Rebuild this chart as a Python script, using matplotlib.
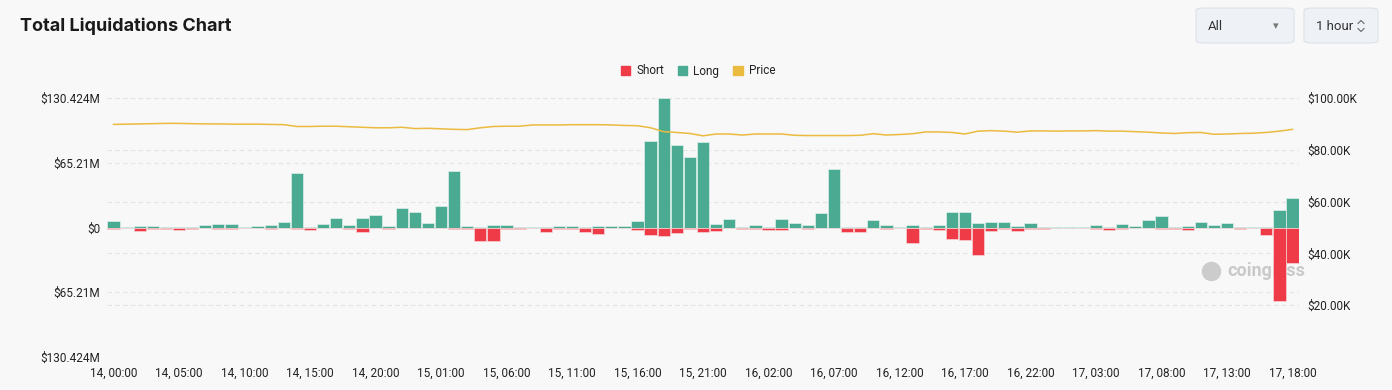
import matplotlib
matplotlib.use('Agg')
import matplotlib.pyplot as plt
import matplotlib.transforms as mtransforms
import numpy as np
from matplotlib.patches import Patch, FancyBboxPatch
from matplotlib.lines import Line2D

# дані: ліквідації по годинах (млн $), 14, 00:00 ... 17, 18:00
long_vals = [6.7, 1.0, 2.0, 1.7, 1.0, 1.0, 1.0, 3.0, 3.3, 4.0,
             0.5, 1.3, 2.3, 5.7, 55.0, 1.0, 3.7, 9.3, 3.0, 9.3,
             12.3, 2.0, 20.0, 15.3, 5.0, 22.0, 57.0, 1.3, 0.3, 3.0,
             3.0, 1.0, 0.5, 0.7, 2.0, 1.3, 1.0, 1.3, 1.7, 1.7,
             7.0, 87.0, 130.424, 83.0, 70.7, 85.7, 3.3, 8.3, 1.0, 3.0,
             0.7, 8.7, 5.0, 2.7, 14.3, 58.7, 0.3, 0.3, 7.3, 2.3,
             0.7, 3.0, 0.7, 2.3, 15.3, 15.7, 5.0, 5.7, 6.0, 2.0,
             5.0, 0.3, 1.0, 1.0, 0.3, 3.0, 1.0, 3.7, 2.0, 8.0,
             12.0, 0.7, 2.0, 6.0, 3.0, 5.0, 0.7, 0.3, 0.3, 18.0,
             29.7]
short_vals = [1.7, 1.0, 3.7, 1.7, 1.7, 2.3, 1.7, 1.0, 1.3, 1.3,
              0.8, 0.7, 1.3, 0.7, 1.7, 3.0, 1.0, 1.0, 1.7, 4.3,
              0.7, 2.0, 0.7, 1.0, 0.7, 0.7, 2.0, 2.0, 13.3, 13.3,
              1.3, 2.0, 0.7, 4.3, 1.3, 1.3, 4.3, 7.0, 0.7, 1.0,
              2.7, 8.0, 8.7, 5.3, 1.7, 5.0, 4.0, 1.0, 1.7, 1.3,
              3.0, 3.0, 0.7, 1.7, 0.7, 0.7, 4.7, 4.7, 0.7, 1.7,
              0.7, 15.7, 2.0, 2.7, 11.3, 12.7, 27.7, 3.7, 1.3, 3.7,
              1.3, 1.7, 0.7, 0.7, 1.0, 1.3, 2.7, 1.7, 1.0, 1.0,
              1.7, 1.7, 2.3, 0.7, 1.0, 1.0, 1.7, 1.0, 7.7, 74.3,
              36.0]
price_vals = [89.8, 89.9, 90.0, 90.1, 90.2, 90.2, 90.1, 90.0, 90.0, 89.9,
              89.9, 89.9, 89.8, 89.7, 89.0, 89.0, 89.1, 89.1, 88.9, 88.7,
              88.5, 88.5, 88.7, 88.2, 88.3, 88.1, 87.9, 87.8, 88.5, 89.0,
              89.1, 89.1, 89.6, 89.6, 89.6, 89.7, 89.7, 89.7, 89.6, 89.4,
              89.3, 88.5, 87.0, 86.7, 86.3, 85.4, 86.1, 86.1, 85.7, 86.1,
              86.1, 86.1, 85.6, 85.5, 85.5, 85.5, 85.5, 85.6, 86.2, 85.7,
              85.9, 86.2, 86.9, 86.9, 86.7, 86.1, 87.2, 87.4, 87.2, 86.8,
              87.3, 87.3, 87.2, 87.3, 87.3, 87.4, 87.2, 87.2, 87.0, 86.8,
              86.5, 86.3, 86.6, 86.7, 86.0, 86.1, 86.3, 86.4, 86.7, 87.2,
              87.9]

x_labels = ['14, 00:00', '14, 05:00', '14, 10:00', '14, 15:00', '14, 20:00',
            '15, 01:00', '15, 06:00', '15, 11:00', '15, 16:00', '15, 21:00',
            '16, 02:00', '16, 07:00', '16, 12:00', '16, 17:00', '16, 22:00',
            '17, 03:00', '17, 08:00', '17, 13:00', '17, 18:00']
left_ticks = [-130.424, -65.21, 0, 65.21, 130.424]
left_labels = ['$130.424M', '$65.21M', '$0', '$65.21M', '$130.424M']
right_ticks = [20, 40, 60, 80, 100]
right_labels = ['$20.00K', '$40.00K', '$60.00K', '$80.00K', '$100.00K']

BG = '#f8f8f8'
GREEN = '#4aaa92'
RED = '#ef3a48'
YELLOW = '#ebbb3f'
TXT = '#222222'
GRID = '#e4e4e4'

plt.rcParams['font.family'] = ['Roboto', 'DejaVu Sans']

fig = plt.figure(figsize=(13.92, 3.9), dpi=100, facecolor=BG)
ax = fig.add_axes([107 / 1392, 33 / 390, 1192 / 1392, 259 / 390])
ax.set_facecolor(BG)

x = np.arange(len(long_vals))
ax.bar(x, long_vals, width=0.94, color=GREEN, edgecolor='#dff0ea', linewidth=0.5, zorder=3)
ax.bar(x, -np.array(short_vals), width=0.94, color=RED, edgecolor='#f6d3d6', linewidth=0.5, zorder=3)

ax.set_xlim(-0.5, len(long_vals) - 0.5)
ax.set_ylim(-130.424, 130.424)
ax.set_yticks(left_ticks)
ax.set_yticklabels(left_labels)
ax.set_xticks(np.arange(0, len(long_vals), 5))
ax.set_xticklabels(x_labels)
ax.tick_params(length=0, labelsize=8.5, colors=TXT)
ax.tick_params(axis='x', pad=7)
ax.tick_params(axis='y', pad=5)
ax.grid(axis='y', color=GRID, linestyle=(0, (4, 3)), linewidth=0.8, zorder=0)
for s in ax.spines.values():
    s.set_visible(False)

# права вісь - ціна
ax2 = ax.twinx()
ax2.plot(x, price_vals, color=YELLOW, lw=1.1, zorder=4)
ax2.set_ylim(0, 100)
ax2.set_yticks(right_ticks)
ax2.set_yticklabels(right_labels)
ax2.tick_params(length=0, labelsize=8.5, colors=TXT, pad=6)
for s in ax2.spines.values():
    s.set_visible(False)

# сітка правої осі - малюємо під стовпчиками
tr = mtransforms.blended_transform_factory(ax.transAxes, ax2.transData)
for v in right_ticks:
    ax.plot([0, 1], [v, v], transform=tr, color=GRID, linestyle=(0, (4, 3)), lw=0.8, zorder=0)

# водяний знак
ax.text(1227 / 1392, 1 - 271 / 390, 'coinglass', transform=fig.transFigure, fontsize=13,
        color='#c9c9c9', fontweight='bold', ha='left', va='center', zorder=1)
ax.plot([1211 / 1392], [1 - 271 / 390], 'o', transform=fig.transFigure, ms=13,
        color='#cccccc', zorder=1, clip_on=False)

# заголовок
fig.text(20 / 1392, 1 - 26 / 390, 'Total Liquidations Chart', fontsize=13,
         fontweight='bold', color='#1a1a1a', family=['Inter', 'DejaVu Sans'], va='center')

# легенда
handles = [Patch(color=RED, label='Short'), Patch(color=GREEN, label='Long'),
           Patch(color=YELLOW, label='Price')]
fig.legend(handles=handles, loc='center', bbox_to_anchor=(698 / 1392, 1 - 71 / 390),
           ncol=3, frameon=False, fontsize=8.5, handlelength=0.8, handleheight=0.8,
           handletextpad=0.5, columnspacing=1.2, labelcolor=TXT)

# кнопки вибору
for x0, x1, label in [(1196, 1294, 'All'), (1304, 1378, '1 hour')]:
    box = FancyBboxPatch((x0 / 1392, 1 - 43 / 390), (x1 - x0) / 1392, 35 / 390,
                         boxstyle='round,pad=0,rounding_size=0.006', transform=fig.transFigure,
                         facecolor='#eef1f6', edgecolor='#dde2ea', linewidth=0.8)
    fig.patches.append(box)
    fig.text((x0 + 12) / 1392, 1 - 26 / 390, label, fontsize=9.5, color='#333333', va='center')
fig.text(1276 / 1392, 1 - 26 / 390, '▾', fontsize=8, color='#777777', va='center', ha='center',
         family='DejaVu Sans')
for dy in (-1, 1):
    xs = np.array([1358, 1361, 1364]) / 1392
    ys = 1 - (26 + dy * np.array([2.5, 5.5, 2.5])) / 390
    fig.lines.append(Line2D(xs, ys, transform=fig.transFigure, color='#666666', lw=0.8))

fig.savefig('out.png', dpi=100, facecolor=BG)
